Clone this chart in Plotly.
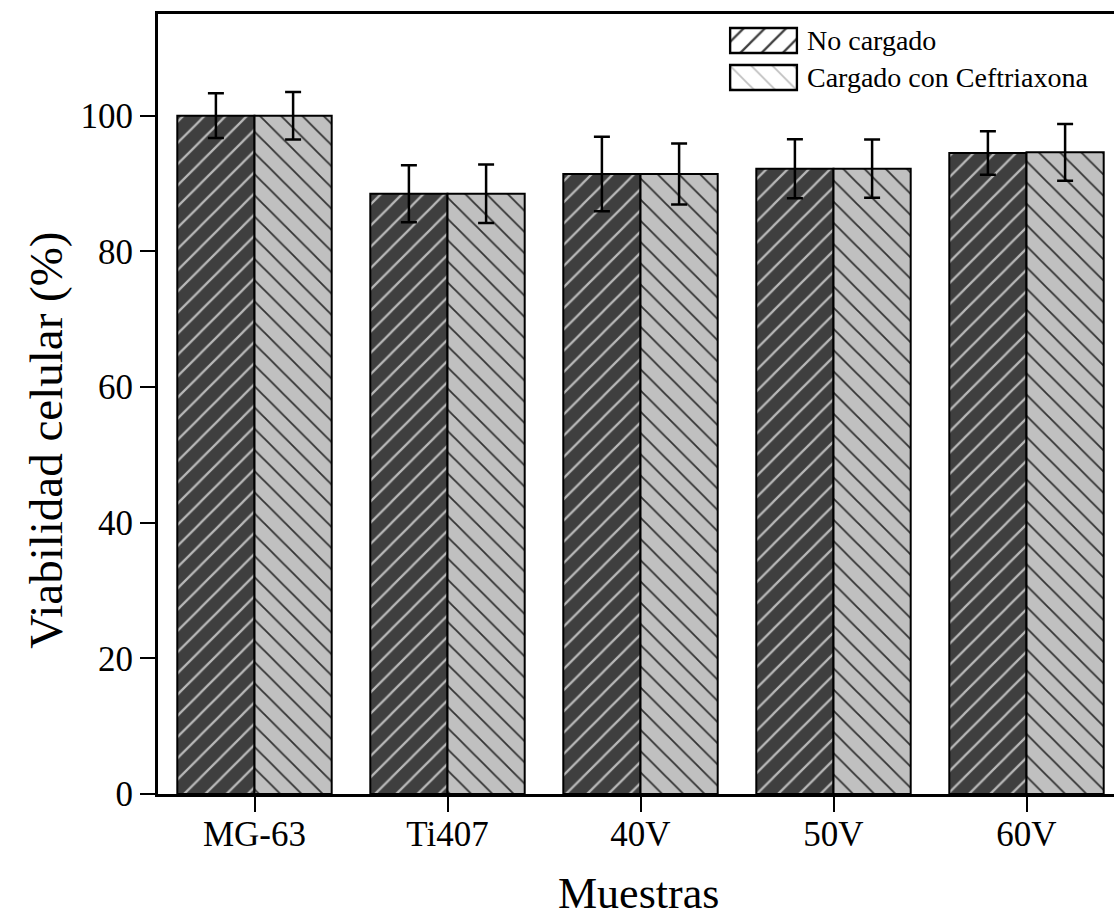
import plotly.graph_objects as go

# Cell viability per sample, unloaded vs. ceftriaxone-loaded
samples = ["MG-63", "Ti407", "40V", "50V", "60V"]
no_cargado = [100.0, 88.5, 91.4, 92.2, 94.5]
no_cargado_err = [3.3, 4.2, 5.5, 4.35, 3.2]
cargado = [100.0, 88.5, 91.4, 92.2, 94.6]
cargado_err = [3.5, 4.3, 4.5, 4.3, 4.2]
y_ticks = [0, 20, 40, 60, 80, 100]

series_names = ["No cargado", "Cargado con Ceftriaxona"]

FONT = "Liberation Serif"
DARK_BG, DARK_FG = "#3f3f3f", "#b8b8b8"
LIGHT_BG, LIGHT_FG = "#c0c0c0", "#333333"

fig = go.Figure()

fig.add_trace(go.Bar(
    x=samples, y=no_cargado, name=series_names[0],
    marker=dict(color=DARK_BG, line=dict(color="black", width=2),
                pattern=dict(shape="/", fgcolor=DARK_FG, bgcolor=DARK_BG,
                             size=15, solidity=0.15, fillmode="replace")),
    error_y=dict(type="data", array=no_cargado_err, color="black",
                 thickness=2.5, width=8),
    showlegend=False,
))
fig.add_trace(go.Bar(
    x=samples, y=cargado, name=series_names[1],
    marker=dict(color=LIGHT_BG, line=dict(color="black", width=2),
                pattern=dict(shape="\\", fgcolor=LIGHT_FG, bgcolor=LIGHT_BG,
                             size=15, solidity=0.12, fillmode="replace")),
    error_y=dict(type="data", array=cargado_err, color="black",
                 thickness=2.5, width=8),
    showlegend=False,
))

# Legend key: two patterned swatches on a small inset axis
fig.add_trace(go.Bar(
    x=[1, 1], y=[1, 0], orientation="h", width=0.676,
    marker=dict(color=[DARK_BG, LIGHT_BG], line=dict(color="black", width=2.5),
                pattern=dict(shape=["/", "\\"], fgcolor=[DARK_FG, LIGHT_FG],
                             bgcolor=[DARK_BG, LIGHT_BG], size=15,
                             solidity=[0.15, 0.12], fillmode="replace")),
    xaxis="x2", yaxis="y2", showlegend=False, hoverinfo="skip",
))

axis_font = dict(family=FONT, size=35, color="black")

fig.update_layout(
    width=1114, height=921,
    margin=dict(l=158, r=0, t=14, b=127),
    paper_bgcolor="white", plot_bgcolor="white",
    barmode="group", bargap=0.2, bargroupgap=0,
    font=dict(family=FONT, color="black"),
    xaxis=dict(
        type="category", range=[-0.5, -0.5 + 956 / 193],
        showline=True, linewidth=3, linecolor="black", mirror=True,
        ticks="outside", ticklen=15, tickwidth=2, tickcolor="black",
        ticklabelstandoff=-8,
        tickfont=axis_font, showgrid=False, zeroline=False,
    ),
    yaxis=dict(
        range=[0, 115], tickvals=y_ticks,
        showline=True, linewidth=3, linecolor="black",
        ticks="outside", ticklen=15, tickwidth=2, tickcolor="black",
        tickfont=axis_font, showgrid=False, zeroline=False,
    ),
    xaxis2=dict(domain=[0.5970, 0.6698], range=[-0.02, 1.02], anchor="y2",
                visible=False, fixedrange=True),
    yaxis2=dict(domain=[0.8949, 0.9897], range=[-0.5, 1.5], anchor="x2",
                visible=False, fixedrange=True),
    annotations=[
        dict(text="Muestras", xref="paper", yref="paper", x=0.5026, y=-0.128,
             xanchor="center", yanchor="middle", showarrow=False,
             font=dict(family=FONT, size=44, color="black")),
        dict(text="Viabilidad celular (%)", xref="paper", yref="paper",
             x=-0.118, y=0.453, xanchor="center", yanchor="middle",
             textangle=-90, showarrow=False,
             font=dict(family=FONT, size=47, color="black")),
        dict(text=series_names[0], xref="paper", yref="paper", x=0.6768,
             y=0.966, xanchor="left", yanchor="middle", showarrow=False,
             font=dict(family=FONT, size=28, color="black")),
        dict(text=series_names[1], xref="paper", yref="paper", x=0.6768,
             y=0.9186, xanchor="left", yanchor="middle", showarrow=False,
             font=dict(family=FONT, size=28, color="black")),
    ],
)

fig.write_html("out.html")
